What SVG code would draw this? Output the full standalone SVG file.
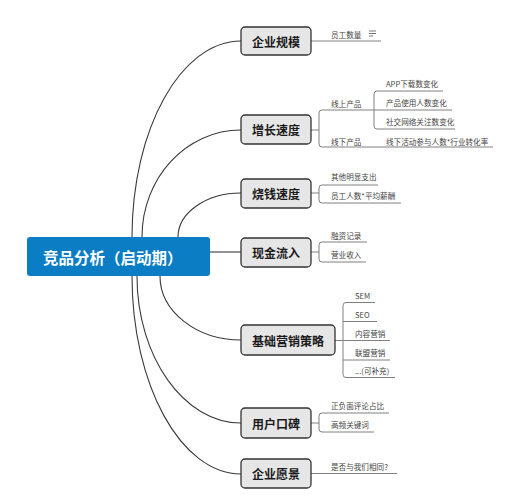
<svg xmlns="http://www.w3.org/2000/svg" width="520" height="500" viewBox="0 0 520 500">
<style>
  .bg{fill:#ffffff}
  .box{fill:#e6e6e6;stroke:#333333;stroke-width:1.3}
  .btxt{font-family:"Noto Sans CJK SC","Liberation Sans",sans-serif;font-size:12px;font-weight:bold;fill:#1a1a1a;text-anchor:middle;dominant-baseline:central}
  .ctxt{font-family:"Noto Sans CJK SC","Liberation Sans",sans-serif;font-size:15.5px;font-weight:bold;fill:#ffffff;dominant-baseline:central}
  .leaf{font-family:"Noto Sans CJK SC","Liberation Sans",sans-serif;font-size:7.6px;fill:#444444;dominant-baseline:central}
  .conn{fill:none;stroke:#3a3a3a;stroke-width:1.1}
  .lline{fill:none;stroke:#808080;stroke-width:1}
</style>
<rect class="bg" x="0" y="0" width="520" height="500"/>

<g id="connectors">
  <path class="conn" d="M132,237 C132,129 181,41 241,41"/>
  <path class="conn" d="M142,237 C142,178 186,130 241,130"/>
  <path class="conn" d="M178,237 C178,213 206,193 241,193"/>
  <path class="conn" d="M210,252 L241,252"/>
  <path class="conn" d="M160,276 C160,311 196,340 241,340"/>
  <path class="conn" d="M137,276 C137,357 184,423 241,423"/>
  <path class="conn" d="M132,276 C132,385 181,474 241,474"/>

  <!-- 企业规模 leaf -->
  <path class="lline" d="M311,41 L381,41"/>
  <!-- 增长速度 leaves -->
  <path class="lline" d="M311,130 L319,130"/>
  <path class="lline" d="M373,110 L322,110 Q319,110 319,113 L319,144 Q319,147 322,147 L493,147"/>
  <path class="lline" d="M443,91 L377,91 Q374,91 374,94 L374,126 Q374,129 377,129 L455,129"/>
  <path class="lline" d="M373,110 L452,110"/>
  <!-- 烧钱速度 leaves -->
  <path class="lline" d="M311,193 L319,193"/>
  <path class="lline" d="M378,185 L322,185 Q319,185 319,188 L319,200 Q319,203 322,203 L401,203"/>
  <!-- 现金流入 leaves -->
  <path class="lline" d="M311,252 L319,252"/>
  <path class="lline" d="M367,242 L322,242 Q319,242 319,245 L319,259 Q319,262 322,262 L366,262"/>
  <!-- 基础营销策略 leaves -->
  <path class="lline" d="M335,340.5 L343,340.5"/>
  <path class="lline" d="M375,302.5 L346,302.5 Q343,302.5 343,305.5 L343,374.5 Q343,377.5 346,377.5 L395,377.5"/>
  <path class="lline" d="M343,321.5 L377,321.5"/>
  <path class="lline" d="M343,340.5 L390,340.5"/>
  <path class="lline" d="M343,360 L390,360"/>
  <!-- 用户口碑 leaves -->
  <path class="lline" d="M311,423 L319,423"/>
  <path class="lline" d="M389,413 L322,413 Q319,413 319,416 L319,429 Q319,432 322,432 L374,432"/>
  <!-- 企业愿景 leaf -->
  <path class="lline" d="M311,473.5 L397,473.5"/>
</g>

<g id="center">
  <rect x="27" y="237" width="183" height="39" rx="3" fill="#0b7dc5"/>
  <text class="ctxt" x="43" y="257">竞品分析（启动期）</text>
</g>

<g id="n-scale">
  <rect class="box" x="241" y="27" width="70" height="28" rx="4"/>
  <text class="btxt" x="276" y="41">企业规模</text>
  <text class="leaf" x="331" y="34">员工数量</text>
  <g stroke="#666" stroke-width="0.9">
    <line x1="369" y1="31" x2="376" y2="31"/>
    <line x1="369" y1="33.5" x2="376" y2="33.5"/>
    <line x1="369" y1="36" x2="373" y2="36"/>
  </g>
</g>

<g id="n-growth">
  <rect class="box" x="241" y="115" width="70" height="29" rx="4"/>
  <text class="btxt" x="276" y="129.5">增长速度</text>
  <text class="leaf" x="331" y="103">线上产品</text>
  <text class="leaf" x="386" y="83">APP下载数变化</text>
  <text class="leaf" x="386" y="102">产品使用人数变化</text>
  <text class="leaf" x="386" y="121">社交网络关注数变化</text>
  <text class="leaf" x="331" y="141">线下产品</text>
  <text class="leaf" x="386" y="141">线下活动参与人数*行业转化率</text>
</g>

<g id="n-burn">
  <rect class="box" x="241" y="179" width="70" height="29" rx="4"/>
  <text class="btxt" x="276" y="193.5">烧钱速度</text>
  <text class="leaf" x="331" y="176.5">其他明显支出</text>
  <text class="leaf" x="331" y="195">员工人数*平均薪酬</text>
</g>

<g id="n-cash">
  <rect class="box" x="241" y="238" width="70" height="29" rx="4"/>
  <text class="btxt" x="276" y="252.5">现金流入</text>
  <text class="leaf" x="331" y="235.5">融资记录</text>
  <text class="leaf" x="331" y="254">营业收入</text>
</g>

<g id="n-marketing">
  <rect class="box" x="241" y="325" width="94" height="30" rx="4"/>
  <text class="btxt" x="288" y="340">基础营销策略</text>
  <text class="leaf" x="355" y="295">SEM</text>
  <text class="leaf" x="355" y="314">SEO</text>
  <text class="leaf" x="355" y="333">内容营销</text>
  <text class="leaf" x="355" y="352">联盟营销</text>
  <text class="leaf" x="355" y="370.5">...(可补充)</text>
</g>

<g id="n-reputation">
  <rect class="box" x="241" y="408" width="70" height="30" rx="4"/>
  <text class="btxt" x="276" y="423">用户口碑</text>
  <text class="leaf" x="331" y="405">正负面评论占比</text>
  <text class="leaf" x="331" y="424">高频关键词</text>
</g>

<g id="n-vision">
  <rect class="box" x="241" y="459" width="70" height="29" rx="4"/>
  <text class="btxt" x="276" y="473.5">企业愿景</text>
  <text class="leaf" x="331" y="466">是否与我们相同?</text>
</g>
</svg>
